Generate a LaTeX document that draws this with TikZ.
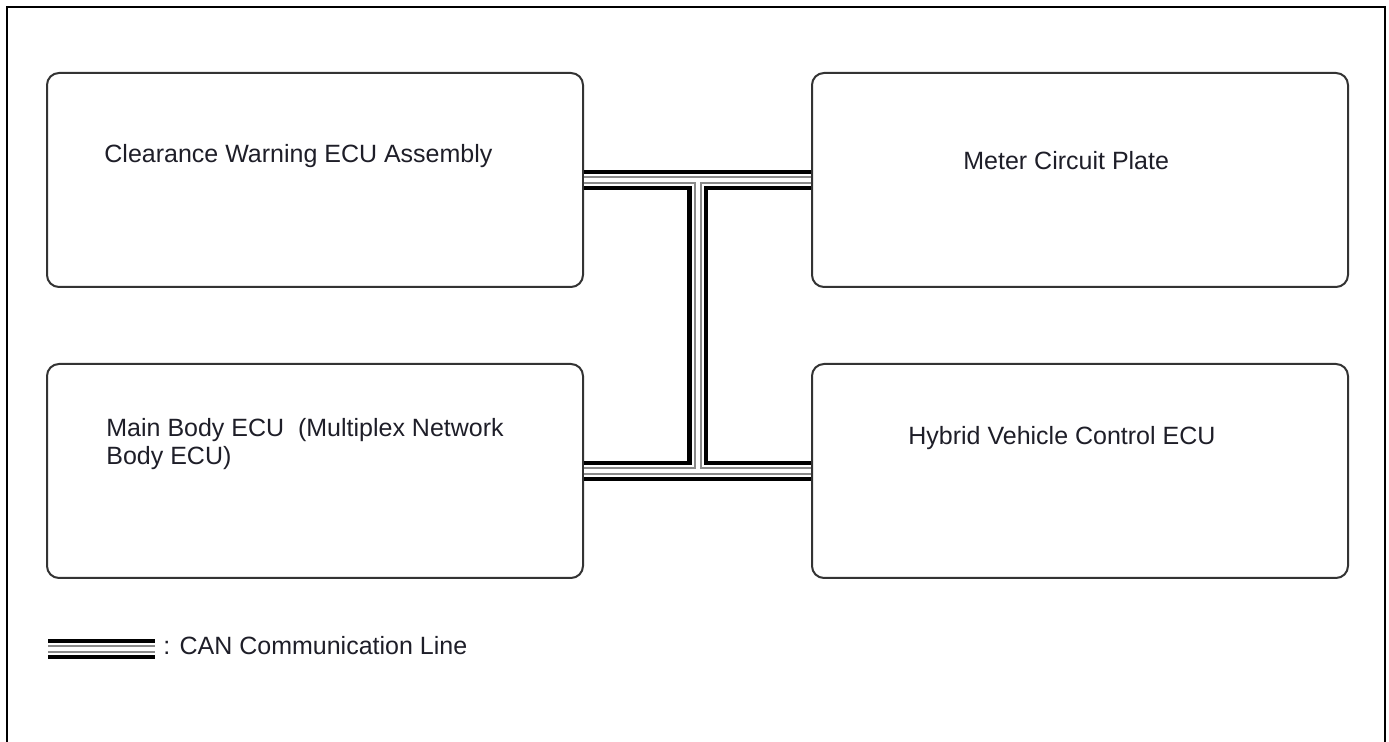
\documentclass[tikz,border=0pt]{standalone}
\usepackage{fontspec}
\setmainfont{Liberation Sans}
\usepackage{xcolor}
\usepackage{tikz}
\usetikzlibrary{positioning,calc}
\definecolor{EdgeGray}{HTML}{333333}
\definecolor{InkDark}{HTML}{1E1E28}
\definecolor{WireGray}{HTML}{8A8A8A}

\begin{document}
\begin{tikzpicture}[
  ecu/.style={rectangle,rounded corners=6pt,draw=EdgeGray,line width=1pt,
              minimum width=268pt,minimum height=107pt,inner sep=0pt},
  lbl/.style={inner sep=0pt,anchor=base west,align=left,text=InkDark,
              font=\fontsize{12.5pt}{14pt}\selectfont},
  can/.style={line width=2pt,white,
              preaction={draw,black,line width=10.25pt},
              preaction={draw,white,line width=6pt},
              preaction={draw,WireGray,line width=4pt}}]
\useasboundingbox (0pt,0pt) rectangle (694.5pt,-371pt);
\draw[line width=1pt] (3.5pt,-372pt) -- (3.5pt,-3.5pt) -- (692.5pt,-3.5pt) -- (692.5pt,-372pt);
\node[ecu] (cw) at (157.5pt,-90pt) {};
\node[ecu,right=113.5pt of cw] (mcp) {};
\node[ecu,below=37.5pt of cw] (mb) {};
\node[ecu,below=37.5pt of mcp] (hv) {};
\node[lbl] (cwtxt) at ([shift={(29pt,8.5pt)}]cw.west) {Clearance Warning ECU Assembly};
\node[lbl] (mcptxt) at ([shift={(76pt,5pt)}]mcp.west) {Meter Circuit Plate};
\node[lbl] (mbtxt) at ([shift={(30pt,3pt)}]mb.west) {Main Body ECU\ \ (Multiplex Network\\Body ECU)};
\node[lbl] (hvtxt) at ([shift={(48.5pt,13pt)}]hv.west) {Hybrid Vehicle Control ECU};
\coordinate (jt) at ($(cw.east)!0.5!(mcp.west)$);
\coordinate (jb) at ($(mb.east)!0.5!(hv.west)$);
\draw[can] (cw.east) -- (mcp.west) (mb.east) -- (hv.west) (jt) -- (jb);
\coordinate (legA) at (24pt,-324.5pt);
\coordinate (legB) at (77.5pt,-324.5pt);
\draw[can] (legA) -- (legB);
\node[lbl] (legtxt) at (81.5pt,-327.5pt) {: CAN Communication Line};
\end{tikzpicture}
\end{document}
